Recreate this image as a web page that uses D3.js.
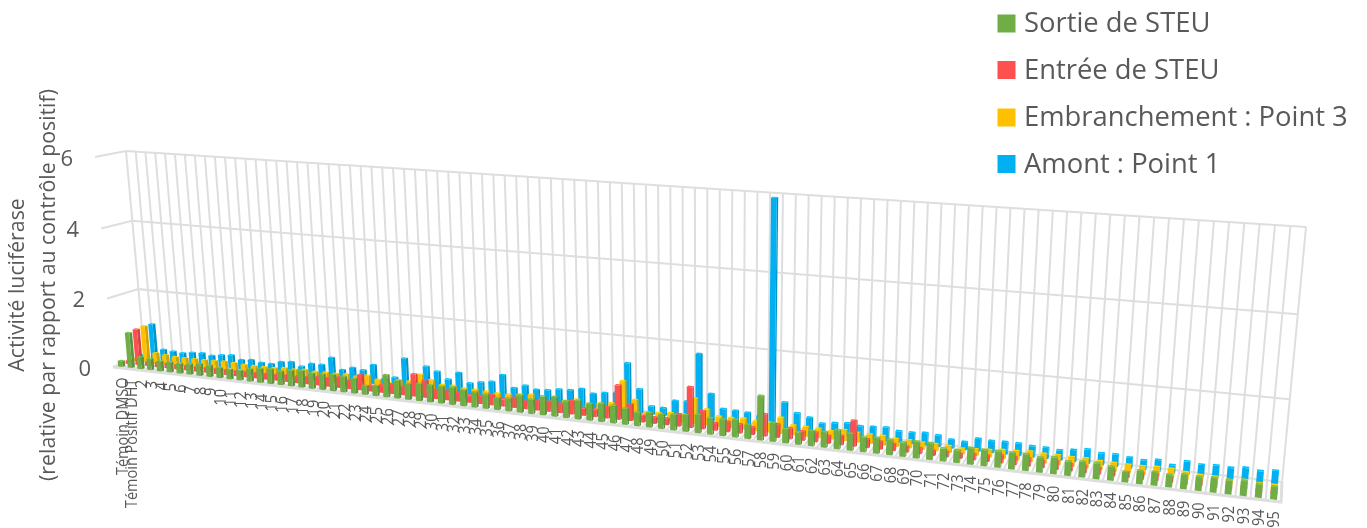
<!DOCTYPE html>
<html>
<head>
<meta charset="utf-8">
<title>Activité luciférase</title>
<script src="https://d3js.org/d3.v7.min.js"></script>
<style>
  html, body { margin: 0; padding: 0; background: #fff; }
  svg { display: block; }
  text { font-family: "Open Sans", sans-serif; fill: #595959; }
</style>
</head>
<body>
<div id="chart"></div>
<script>
var categories = ["Témoin DMSO", "Témoin Positif DHT", "2", "3", "4", "5", "6", "7", "8", "9",
  "10", "11", "12", "13", "14", "15", "16", "17", "18", "19",
  "20", "21", "22", "23", "24", "25", "26", "27", "28", "29",
  "30", "31", "32", "33", "34", "35", "36", "37", "38", "39",
  "40", "41", "42", "43", "44", "45", "46", "47", "48", "49",
  "50", "51", "52", "53", "54", "55", "56", "57", "58", "59",
  "60", "61", "62", "63", "64", "65", "66", "67", "68", "69",
  "70", "71", "72", "73", "74", "75", "76", "77", "78", "79",
  "80", "81", "82", "83", "84", "85", "86", "87", "88", "89",
  "90", "91", "92", "93", "94", "95"];

var sortie = [.17, 1.02, .34, .32, .29, .29, .29, .31, .34, .33,
  .29, .28, .28, .35, .4, .42, .39, .45, .47, .43,
  .44, .46, .44, .42, .25, .28, .62, .5, .44, .48,
  .47, .47, .48, .44, .42, .39, .33, .35, .47, .39,
  .51, .53, .45, .5, .45, .49, .47, .43, .36, .39,
  .38, .41, .44, .48, .43, .43, .46, .37, 1.15, .48,
  .36, .32, .39, .4, .49, .43, .37, .4, .39, .36,
  .42, .42, .32, .32, .41, .4, .41, .41, .41, .37,
  .41, .35, .38, .38, .34, .25, .32, .33, .3, .35,
  .33, .35, .33, .36, .32, .3];

var entree = [.1, 1.05, .12, .14, .14, .14, .14, .14, .15, .15,
  .15, .15, .17, .17, .18, .18, .2, .2, .22, .25,
  .25, .3, .25, .44, .17, .22, .27, .24, .62, .48,
  .25, .28, .24, .2, .22, .27, .2, .27, .24, .25,
  .27, .25, .36, .2, .2, .3, .92, .45, .18, .17,
  .18, .33, 1.08, .48, .2, .27, .24, .2, .58, .35,
  .28, .24, .25, .2, .24, .66, .22, .2, .18, .15,
  .15, .12, .13, .12, .15, .15, .2, .2, .2, .17,
  .2, .17, .17, .15, .14, .13, .14, .14, .12, .1,
  .1, .1, .06, .08, .05, .05];

var embranchement = [.1, 1.07, .3, .27, .25, .25, .25, .25, .27, .28,
  .27, .25, .24, .25, .25, .28, .27, .3, .27, .28,
  .28, .3, .27, .33, .24, .18, .3, .3, .52, .4,
  .3, .31, .27, .27, .25, .23, .24, .27, .3, .2,
  .2, .23, .3, .22, .26, .31, .94, .47, .17, .18,
  .22, .22, .68, .42, .27, .27, .29, .25, .26, .42,
  .25, .25, .24, .21, .28, .25, .24, .24, .2, .2,
  .18, .18, .17, .14, .16, .18, .22, .23, .26, .24,
  .24, .23, .24, .21, .2, .2, .2, .22, .22, .17,
  .14, .14, .1, .14, .1, .1];

var amont = [.12, 1.05, .32, .3, .28, .33, .34, .3, .35, .38,
  .27, .3, .25, .25, .34, .37, .27, .38, .39, .62,
  .3, .4, .36, .54, .18, .25, .82, .2, .66, .55,
  .36, .58, .32, .38, .43, .65, .32, .42, .34, .36,
  .42, .43, .5, .4, .46, .5, 1.33, .66, .23, .22,
  .45, .47, 1.77, .74, .37, .36, .34, .3, 5.92, .72,
  .47, .39, .27, .32, .35, .31, .33, .35, .29, .29,
  .32, .29, .22, .2, .32, .3, .31, .31, .28, .28,
  .25, .3, .35, .29, .3, .26, .23, .28, .19, .32,
  .28, .3, .28, .32, .28, .33];

var seriesNames = ["Sortie de STEU", "Entrée de STEU", "Embranchement : Point 3", "Amont : Point 1"];
var seriesValues = [sortie, entree, embranchement, amont];
var seriesColors = ["#70ad47", "#ff5050", "#ffc000", "#00b0f0"];
var valueTicks = [0, 2, 4, 6];

var W = 1367, H = 528;
var GRID = "#dedede";

// corners of the two walls in the photo: [bottom left, bottom right, top right, top left]
var backWall = [[144.5, 356], [1282, 482], [1306, 227], [126, 151]];
var frontWall = [[113, 367], [1281, 502], [1305.5, 240], [95, 157]];

// unit square -> quad, plain projective mapping
function homography(q) {
  var x0 = q[0][0], y0 = q[0][1], x1 = q[1][0], y1 = q[1][1];
  var x2 = q[2][0], y2 = q[2][1], x3 = q[3][0], y3 = q[3][1];
  var dx1 = x1 - x2, dx2 = x3 - x2, sx = x0 - x1 + x2 - x3;
  var dy1 = y1 - y2, dy2 = y3 - y2, sy = y0 - y1 + y2 - y3;
  var den = dx1 * dy2 - dx2 * dy1;
  var g = (sx * dy2 - dx2 * sy) / den;
  var h = (dx1 * sy - sx * dy1) / den;
  var a = x1 - x0 + g * x1, b = x3 - x0 + h * x3;
  var d = y1 - y0 + g * y1, e = y3 - y0 + h * y3;
  return function(u, v) {
    var w = g * u + h * v + 1;
    return [(a * u + b * v + x0) / w, (d * u + e * v + y0) / w];
  };
}

var back = homography(backWall);
var front = homography(frontWall);

// u along categories, depth 0 front..1 back, v height 0..1
function project(u, depth, v) {
  var p = front(u, v), q = back(u, v);
  return [p[0] + (q[0] - p[0]) * depth, p[1] + (q[1] - p[1]) * depth];
}

var x = d3.scaleBand().domain(d3.range(categories.length)).range([0, 1]);
var depthScale = d3.scaleBand().domain(d3.range(seriesNames.length)).range([0, 1]).paddingInner(0.65).paddingOuter(0.32);
var y = d3.scaleLinear().domain([0, 6]).range([0, 1]);
var barPad = 0.27; // share of a category left free on each side of a bar

var svg = d3.select("#chart").append("svg").attr("width", W).attr("height", H);
var plot = svg.append("g").style("filter", "blur(0.45px)");

var line = d3.line();

//////////////////
// WALLS AND FLOOR
var uEdges = d3.range(categories.length + 1).map(function(i) { return i / categories.length; });

plot.append("g").selectAll("path").data(uEdges).join("path")
  .attr("d", function(u) { return line([project(u, 0, 0), project(u, 1, 0), project(u, 1, 1)]); })
  .attr("fill", "none").attr("stroke", GRID).attr("stroke-width", 2);

plot.append("g").selectAll("path").data(valueTicks).join("path")
  .attr("d", function(t) { return line([project(0, 0, y(t)), project(0, 1, y(t)), project(1, 1, y(t))]); })
  .attr("fill", "none").attr("stroke", GRID).attr("stroke-width", 2);

plot.append("path")
  .attr("d", line([project(0, 0, 0), project(1, 0, 0), project(1, 1, 0)]))
  .attr("fill", "none").attr("stroke", GRID).attr("stroke-width", 3);

/////////
// BARS
var bars = [];
[3, 2, 1, 0].forEach(function(s) {
  seriesValues[s].forEach(function(val, i) {
    bars.push({ s: s, i: i, val: val });
  });
});

function faces(b) {
  var u0 = x(b.i) + x.bandwidth() * barPad, u1 = x(b.i) + x.bandwidth() * (1 - barPad);
  var d0 = depthScale(b.s), d1 = d0 + depthScale.bandwidth();
  var v = y(b.val);
  return {
    front: [project(u0, d0, 0), project(u1, d0, 0), project(u1, d0, v), project(u0, d0, v)],
    side: [project(u1, d0, 0), project(u1, d1, 0), project(u1, d1, v), project(u1, d0, v)],
    top: [project(u0, d0, v), project(u1, d0, v), project(u1, d1, v), project(u0, d1, v)]
  };
}

var barG = plot.append("g").selectAll("g").data(bars).join("g");

barG.append("path")
  .attr("d", function(b) { return line(faces(b).side) + "Z"; })
  .attr("fill", function(b) { return d3.color(seriesColors[b.s]).darker(0.5); });
barG.append("path")
  .attr("d", function(b) { return line(faces(b).front) + "Z"; })
  .attr("fill", function(b) { return seriesColors[b.s]; });
barG.append("path")
  .attr("d", function(b) { return line(faces(b).top) + "Z"; })
  .attr("fill", function(b) { return d3.color(seriesColors[b.s]).brighter(0.3); });

//////////
// LABELS
// quarter turn, run squeezed a bit so the two digit labels fit like the narrow font of the original
plot.append("g").selectAll("text").data(categories).join("text")
  .attr("transform", function(c, i) {
    var p = project(x(i) + x.bandwidth() / 2, 0.125, 0);
    var q = project(x(i) + x.bandwidth() / 2, 0, 0);
    return "translate(" + (p[0] + 6) + "," + (q[1] + 10) + ") rotate(-90) scale(0.88,1)";
  })
  .attr("text-anchor", "end")
  .attr("font-size", 16.5)
  .text(function(c) { return c; });

plot.append("g").selectAll("text").data(valueTicks).join("text")
  .attr("x", function(t) { return project(0, 0, y(t))[0] - 22; })
  .attr("y", function(t) { return project(0, 0, y(t))[1] + 9; })
  .attr("text-anchor", "end")
  .attr("font-size", 22)
  .text(function(t) { return t; });

var titleLines = [["Activité luciférase", 24], ["(relative par rapport au contrôle positif)", 55]];
plot.append("g").selectAll("text").data(titleLines).join("text")
  .attr("transform", function(d) { return "translate(" + d[1] + ",285) rotate(-90)"; })
  .attr("text-anchor", "middle")
  .attr("font-size", 21.3)
  .text(function(d) { return d[0]; });

//////////
// LEGEND
var legendBase = [32, 78.5, 126, 172.5];
var legend = plot.append("g").selectAll("g").data(seriesNames).join("g");
legend.append("rect")
  .attr("x", 997.5).attr("y", function(d, i) { return legendBase[i] - 17.5; })
  .attr("width", 18).attr("height", 18)
  .attr("fill", function(d, i) { return seriesColors[i]; });
legend.append("text")
  .attr("x", 1024).attr("y", function(d, i) { return legendBase[i]; })
  .attr("font-size", 27.4)
  .text(function(d) { return d; });
</script>
</body>
</html>
